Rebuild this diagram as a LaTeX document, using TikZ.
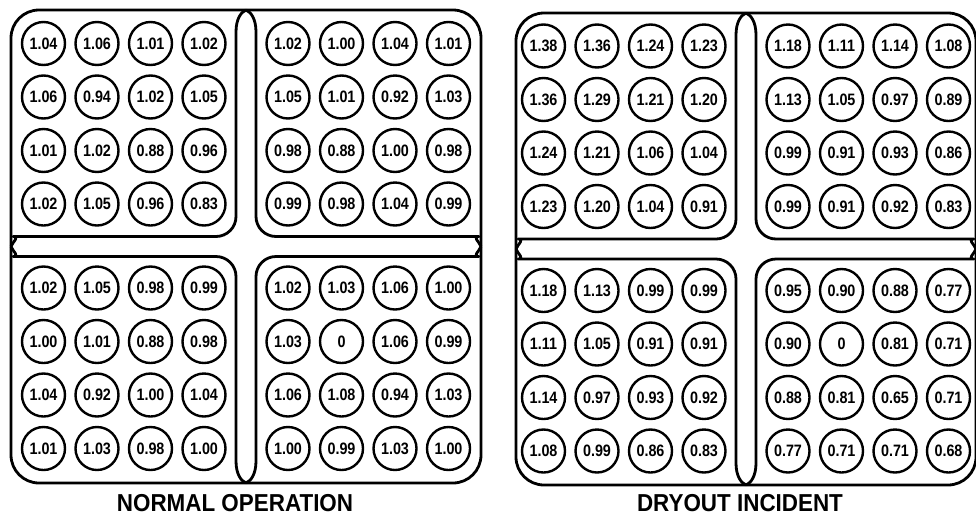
\documentclass[tikz,border=0pt]{standalone}
\usepackage{fontspec}
\setmainfont{Liberation Sans}
\newcommand\fuelbox[5]{% #1 cx, #2 cy, #3 Hx, #4 Hy, #5 w
  \draw[wall, rounded corners=28pt] (#1-#3,#2-#4) rectangle (#1+#3,#2+#4);
  \foreach \sx/\sy in {1/1,-1/1,1/-1,-1/-1}{
    \begin{scope}[shift={(#1,#2)}, xscale=\sx, yscale=\sy]
      \draw[wall] (0,-#4) .. controls (-0.5*#5,-#4+2) and (-#5,-#4+9) .. (-#5,-#4+22)
         [rounded corners=20pt] -- (-#5,-#5) -- (-#3+22,-#5) [sharp corners]
         .. controls (-#3+9,-#5) and (-#3+2,-0.5*#5) .. (-#3,0);
    \end{scope}
  }
}
\newcommand\rodtext[1]{\scalebox{0.87}[1]{#1}}
\begin{document}
\begin{tikzpicture}[x=1pt,y=-1pt,
  rod/.style={circle, draw, line width=2.4pt, minimum size=43pt, inner sep=0pt,
    font=\bfseries\fontsize{16.5}{16.5}\selectfont},
  wall/.style={line width=2.8pt, line join=round},
  caption/.style={font=\bfseries\fontsize{24.5}{24.5}\selectfont}]
\useasboundingbox (0,0) rectangle (976,520);
\clip (0,0) rectangle (976,520);

% ---------- left assembly: normal operation ----------
\fuelbox{246}{246.5}{235}{236.5}{10}
\foreach \v [count=\i from 0] in {
  1.04,1.06,1.01,1.02,1.02,1.00,1.04,1.01,
  1.06,0.94,1.02,1.05,1.05,1.01,0.92,1.03,
  1.01,1.02,0.88,0.96,0.98,0.88,1.00,0.98,
  1.02,1.05,0.96,0.83,0.99,0.98,1.04,0.99,
  1.02,1.05,0.98,0.99,1.02,1.03,1.06,1.00,
  1.00,1.01,0.88,0.98,1.03,0,1.06,0.99,
  1.04,0.92,1.00,1.04,1.06,1.08,0.94,1.03,
  1.01,1.03,0.98,1.00,1.00,0.99,1.03,1.00}{
  \pgfmathtruncatemacro\r{int(\i/8)}
  \pgfmathtruncatemacro\c{mod(\i,8)}
  \pgfmathsetmacro\ox{(\c<4 ? -1 : 1)*(42+53.5*(\c<4 ? 3-\c : \c-4))}
  \pgfmathsetmacro\oy{(\r<4 ? -1 : 1)*(42+53.5*(\r<4 ? 3-\r : \r-4))}
  \node[rod] (L-\r-\c) at (246+\ox,246+\oy) {\rodtext{\v}};
}

% ---------- right assembly: dryout incident ----------
\fuelbox{746}{249}{230}{236}{10}
\foreach \v [count=\i from 0] in {
  1.38,1.36,1.24,1.23,1.18,1.11,1.14,1.08,
  1.36,1.29,1.21,1.20,1.13,1.05,0.97,0.89,
  1.24,1.21,1.06,1.04,0.99,0.91,0.93,0.86,
  1.23,1.20,1.04,0.91,0.99,0.91,0.92,0.83,
  1.18,1.13,0.99,0.99,0.95,0.90,0.88,0.77,
  1.11,1.05,0.91,0.91,0.90,0,0.81,0.71,
  1.14,0.97,0.93,0.92,0.88,0.81,0.65,0.71,
  1.08,0.99,0.86,0.83,0.77,0.71,0.71,0.68}{
  \pgfmathtruncatemacro\r{int(\i/8)}
  \pgfmathtruncatemacro\c{mod(\i,8)}
  \pgfmathsetmacro\ox{(\c<4 ? -1 : 1)*(42+53.5*(\c<4 ? 3-\c : \c-4))}
  \pgfmathsetmacro\oy{(\r<4 ? -1 : 1)*(42+53.5*(\r<4 ? 3-\r : \r-4))}
  \node[rod] (R-\r-\c) at (746+\ox,248.5+\oy) {\rodtext{\v}};
}

\node[caption] (capL) at (235,503.5) {\scalebox{0.915}[1]{NORMAL OPERATION}};
\node[caption] (capR) at (740,503.5) {\scalebox{0.915}[1]{DRYOUT INCIDENT}};
\end{tikzpicture}
\end{document}
